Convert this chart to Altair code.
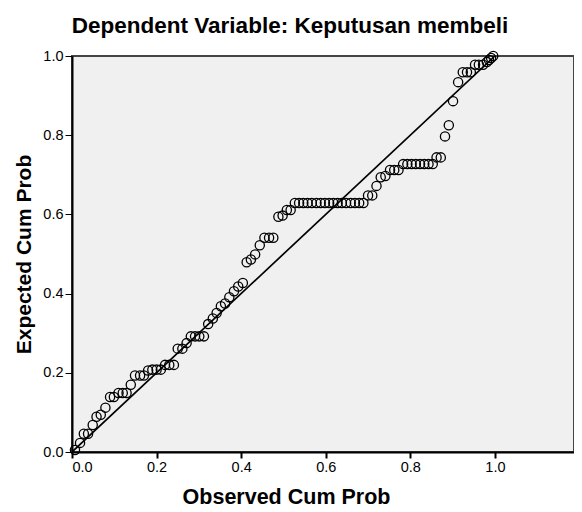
import altair as alt
import pandas as pd

observed = [
    0.007, 0.019, 0.028, 0.038, 0.049, 0.058, 0.068, 0.079, 0.090, 0.099,
    0.110, 0.120, 0.129, 0.139, 0.149, 0.161, 0.170, 0.180, 0.190, 0.200,
    0.210, 0.220, 0.230, 0.241, 0.250, 0.261, 0.271, 0.281, 0.291, 0.301,
    0.312, 0.322, 0.333, 0.342, 0.352, 0.362, 0.372, 0.383, 0.393, 0.404,
    0.413, 0.423, 0.433, 0.444, 0.455, 0.466, 0.476, 0.488, 0.498, 0.508,
    0.517,
    0.527, 0.537, 0.547, 0.557, 0.567, 0.578, 0.588, 0.598, 0.608, 0.618,
    0.628, 0.638, 0.648, 0.659, 0.669, 0.679, 0.689,
    0.700, 0.710, 0.720, 0.730, 0.741, 0.752, 0.762, 0.772,
    0.783, 0.793, 0.803, 0.813, 0.823, 0.833, 0.843, 0.853,
    0.862, 0.872, 0.882, 0.891, 0.901, 0.913, 0.924, 0.934, 0.943, 0.953,
    0.962, 0.972, 0.981, 0.986, 0.991, 0.996,
]
expected = [
    0.005, 0.023, 0.046, 0.046, 0.068, 0.089, 0.094, 0.112, 0.139, 0.139,
    0.149, 0.149, 0.149, 0.170, 0.193, 0.193, 0.193, 0.206, 0.208, 0.208,
    0.208, 0.220, 0.220, 0.220, 0.261, 0.261, 0.275, 0.292, 0.292, 0.292,
    0.292, 0.323, 0.337, 0.351, 0.368, 0.375, 0.391, 0.406, 0.418, 0.427,
    0.479, 0.486, 0.499, 0.522, 0.541, 0.541, 0.541, 0.594, 0.597, 0.611,
    0.611,
    0.629, 0.629, 0.629, 0.629, 0.629, 0.629, 0.629, 0.629, 0.629, 0.629,
    0.629, 0.629, 0.629, 0.629, 0.629, 0.629, 0.629,
    0.648, 0.648, 0.672, 0.694, 0.697, 0.712, 0.712, 0.712,
    0.727, 0.727, 0.727, 0.727, 0.727, 0.727, 0.727, 0.727,
    0.744, 0.744, 0.797, 0.825, 0.886, 0.934, 0.959, 0.959, 0.959, 0.978,
    0.978, 0.978, 0.985, 0.990, 0.995, 1.000,
]
ref_line = [0.0, 1.0]
tick_values = [0.0, 0.2, 0.4, 0.6, 0.8, 1.0]

pts = pd.DataFrame({"obs": observed, "exp": expected})
line_df = pd.DataFrame({"obs": ref_line, "exp": ref_line})

font = "Liberation Sans"

x_enc = alt.X(
    "obs:Q",
    scale=alt.Scale(domain=[0, 1.187], nice=False, zero=False),
    axis=alt.Axis(
        values=tick_values, format=".1f", title="Observed Cum Prob",
        titleFontSize=21.5, titleFont=font, titleFontWeight="bold", titleColor="black",
        titlePadding=13, titleX=214, labelFontSize=14.5, labelFont=font, labelColor="black",
        tickColor="black", tickSize=6, tickWidth=2, domainColor="black", domainWidth=2,
        grid=False, labelPadding=2,
    ),
)
y_enc = alt.Y(
    "exp:Q",
    scale=alt.Scale(domain=[0, 1], nice=False),
    axis=alt.Axis(
        values=tick_values, format=".1f", title="Expected Cum Prob",
        titleFontSize=21, titleFont=font, titleFontWeight="bold", titleColor="black",
        titlePadding=8, labelFontSize=14.5, labelFont=font, labelColor="black",
        tickColor="black", tickSize=7, tickWidth=1, domainColor="black", domainWidth=2,
        grid=False, labelPadding=2,
    ),
)

line = alt.Chart(line_df).mark_line(color="black", strokeWidth=1.7, clip=True).encode(
    x=x_enc, y=y_enc
)
points = alt.Chart(pts).mark_point(
    shape="circle", filled=False, color="black", size=85, strokeWidth=1.3, opacity=1
).encode(x="obs:Q", y="exp:Q")

chart = (
    alt.layer(line, points)
    .properties(
        width=502,
        height=396,
        title=alt.TitleParams(
            "Dependent Variable: Keputusan membeli",
            font=font, fontSize=22.5, fontWeight="bold", color="black",
            anchor="middle", dx=-33, offset=11,
        ),
        view=alt.ViewBackground(fill="#F0F0F0", stroke="#444444", strokeWidth=2),
        autosize=alt.AutoSizeParams(type="none"),
        padding={"left": 64, "top": 48, "right": 0, "bottom": 56},
    )
    .configure(background="white")
)

chart.save("out.html", embed_options={"renderer": "svg", "actions": False})
